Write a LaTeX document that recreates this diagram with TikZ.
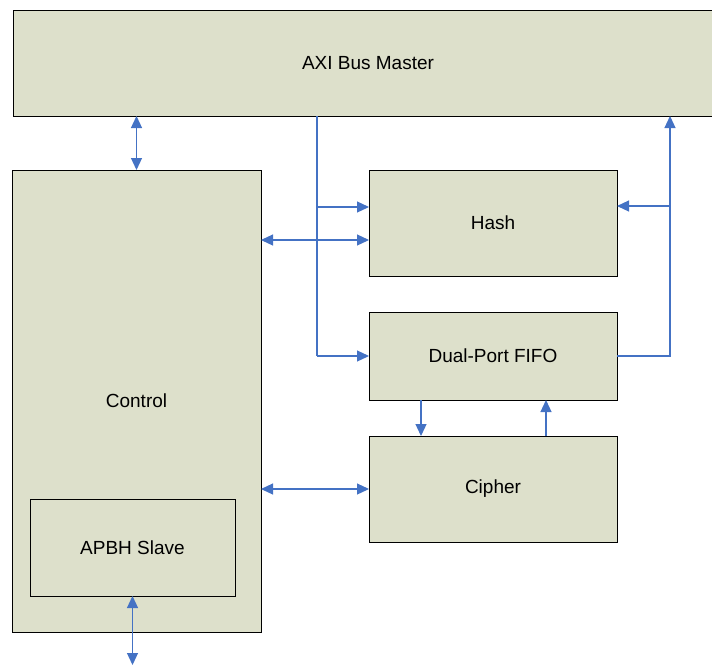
\documentclass[tikz,border=0pt]{standalone}
\usepackage{fontspec}
\setmainfont{Liberation Sans}
\usetikzlibrary{arrows.meta,calc}
\definecolor{boxfill}{RGB}{221,224,203}
\definecolor{link}{RGB}{68,114,196}
\begin{document}
\begin{tikzpicture}[x=1pt,y=-1pt,
 blk/.style={draw=black,line width=1pt,fill=boxfill,inner sep=0pt,outer sep=0pt,anchor=north west,font=\fontsize{19}{22}\selectfont},
 wire/.style={draw=link,line width=1.2pt},
 tip/.style={-{Triangle[length=12pt,width=11pt]}},
 tips/.style={{Triangle[length=12pt,width=11pt]}-{Triangle[length=12pt,width=11pt]}}]
\useasboundingbox (0,0) rectangle (712,667);
\node[blk,minimum width=710pt,minimum height=106pt] (axi) at (13,10) {AXI Bus Master};
\node[blk,minimum width=249pt,minimum height=462pt] (ctrl) at (12,170) {Control};
\node[blk,minimum width=205pt,minimum height=97pt] (apbh) at (30,499) {APBH Slave};
\node[blk,minimum width=248pt,minimum height=106pt] (hash) at (369,170) {Hash};
\node[blk,minimum width=248pt,minimum height=88pt] (fifo) at (369,312) {Dual-Port FIFO};
\node[blk,minimum width=248pt,minimum height=106pt] (cipher) at (369,436) {Cipher};
\coordinate (bx) at (317,0);
\coordinate (rx) at (670,0);
\coordinate (apbout) at (132.5,665);
\coordinate (h1) at ($(hash.north west)+(0,37)$);
\coordinate (h2) at ($(hash.north west)+(0,70)$);
\coordinate (h3) at ($(hash.north east)+(0,36)$);
\coordinate (c1) at ($(cipher.north west)+(52,0)$);
\coordinate (c2) at ($(cipher.north west)+(177,0)$);
\draw[wire,tips] (ctrl.north) -- (ctrl.north |- axi.south);
\draw[wire] (bx |- axi.south) -- (bx |- fifo.west);
\draw[wire,tip] (bx |- h1) -- (h1);
\draw[wire,tips] (h2 -| ctrl.east) -- (h2);
\draw[wire,tip] (bx |- fifo.west) -- (fifo.west);
\draw[wire,tip] (fifo.east) -- (fifo.east -| rx) -- (rx |- axi.south);
\draw[wire,tip] (rx |- h3) -- (h3);
\draw[wire,tip] (c1 |- fifo.south) -- (c1);
\draw[wire,tip] (c2) -- (c2 |- fifo.south);
\draw[wire,tips] (cipher.west -| ctrl.east) -- (cipher.west);
\draw[wire,tips] (apbh.south) -- (apbout);
\end{tikzpicture}
\end{document}
